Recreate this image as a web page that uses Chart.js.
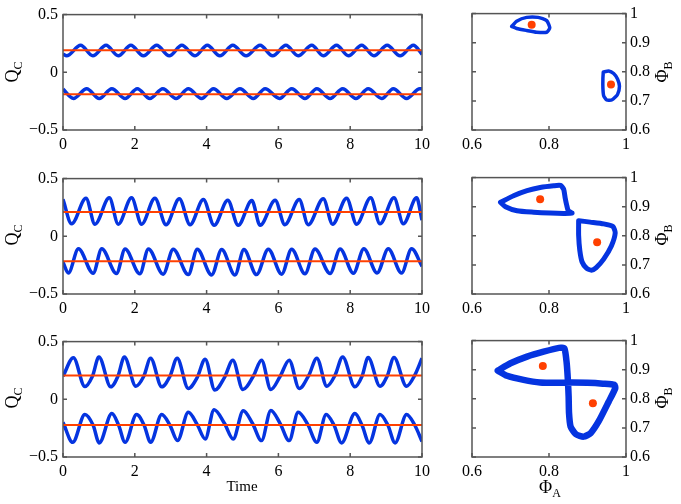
<!DOCTYPE html>
<html><head><meta charset="utf-8">
<script src="https://cdn.jsdelivr.net/npm/chart.js@4"></script>
<style>
html,body{margin:0;padding:0;background:#fff;}
#wrap{position:relative;width:681px;height:504px;overflow:hidden;background:#fff;font-family:'Liberation Serif','Times New Roman',serif;}
canvas{position:absolute;}
.lbl{position:absolute;white-space:nowrap;font-size:18px;color:#000;line-height:1;z-index:2;}
.rot{transform:translate(-50%,-50%) rotate(-90deg);}
.hor{transform:translate(-50%,-50%);}
.lbl sub{font-size:12px;vertical-align:-4px;line-height:0;}
</style></head>
<body>
<div id="wrap">
<canvas id="t1" width="440" height="160" style="left:0;top:0"></canvas>
<canvas id="t2" width="440" height="160" style="left:0;top:164px"></canvas>
<canvas id="t3" width="440" height="177" style="left:0;top:327px"></canvas>
<canvas id="p1" width="231" height="160" style="left:450px;top:0"></canvas>
<canvas id="p2" width="231" height="160" style="left:450px;top:164px"></canvas>
<canvas id="p3" width="231" height="177" style="left:450px;top:327px"></canvas>
<div class="lbl rot" style="left:12px;top:72px">Q<sub>C</sub></div>
<div class="lbl rot" style="left:12px;top:235px">Q<sub>C</sub></div>
<div class="lbl rot" style="left:12px;top:398px">Q<sub>C</sub></div>
<div class="lbl rot" style="left:662px;top:72px">&Phi;<sub>B</sub></div>
<div class="lbl rot" style="left:662px;top:235px">&Phi;<sub>B</sub></div>
<div class="lbl rot" style="left:662px;top:398px">&Phi;<sub>B</sub></div>
<div class="lbl hor" style="left:242px;top:486px;font-size:15px">Time</div>
<div class="lbl hor" style="left:550px;top:487px">&Phi;<sub>A</sub></div>
</div>
<script>
// ---------- time-series data (Q_C vs Time) ----------
const r1UpT = [0, 0.10, 0.49, 0.83, 1.20, 1.54, 1.89, 2.24, 2.61, 2.96, 3.31, 3.68, 4.02, 4.37, 4.73, 5.10, 5.49, 5.84, 6.21, 6.55, 6.93, 7.25, 7.62, 7.95, 8.32, 8.66, 9.03, 9.39, 9.76, 10];
const r1UpV = [0.157, 0.143, 0.234, 0.143, 0.234, 0.143, 0.234, 0.143, 0.234, 0.143, 0.234, 0.143, 0.234, 0.143, 0.234, 0.143, 0.234, 0.143, 0.234, 0.143, 0.234, 0.143, 0.234, 0.143, 0.234, 0.143, 0.234, 0.143, 0.234, 0.157];
const r1LoT = [0, 0.29, 0.66, 1.01, 1.36, 1.73, 2.07, 2.42, 2.78, 3.15, 3.49, 3.86, 4.19, 4.56, 4.93, 5.30, 5.63, 6.03, 6.37, 6.74, 7.07, 7.44, 7.79, 8.16, 8.50, 8.88, 9.20, 9.57, 9.94, 10];
const r1LoV = [-0.146, -0.227, -0.142, -0.227, -0.142, -0.227, -0.142, -0.227, -0.142, -0.227, -0.142, -0.227, -0.142, -0.227, -0.142, -0.227, -0.142, -0.227, -0.142, -0.227, -0.142, -0.227, -0.142, -0.227, -0.142, -0.227, -0.142, -0.227, -0.142, -0.143];
const r1Mean = [0.19, -0.19];

const r2UpT = [0, 0.24, 0.64, 0.89, 1.29, 1.54, 1.91, 2.19, 2.56, 2.87, 3.24, 3.54, 3.91, 4.21, 4.59, 4.88, 5.26, 5.49, 5.91, 6.18, 6.58, 6.83, 7.25, 7.51, 7.90, 8.18, 8.57, 8.83, 9.22, 9.48, 9.85, 10];
const r2UpV = [0.32, 0.108, 0.33, 0.105, 0.333, 0.105, 0.333, 0.105, 0.33, 0.10, 0.325, 0.10, 0.318, 0.095, 0.312, 0.095, 0.31, 0.095, 0.312, 0.10, 0.318, 0.10, 0.325, 0.105, 0.33, 0.105, 0.333, 0.108, 0.333, 0.108, 0.333, 0.14];
const r2LoT = [0, 0.15, 0.43, 0.84, 1.08, 1.49, 1.73, 2.14, 2.38, 2.79, 3.07, 3.49, 3.74, 4.14, 4.42, 4.79, 5.04, 5.39, 5.72, 6.09, 6.37, 6.74, 7.02, 7.44, 7.72, 8.09, 8.38, 8.75, 9.06, 9.43, 9.71, 10];
const r2LoV = [-0.225, -0.318, -0.108, -0.32, -0.108, -0.322, -0.11, -0.325, -0.11, -0.328, -0.112, -0.332, -0.112, -0.335, -0.115, -0.335, -0.115, -0.332, -0.112, -0.328, -0.112, -0.325, -0.11, -0.322, -0.11, -0.32, -0.108, -0.318, -0.108, -0.318, -0.108, -0.26];
const r2Mean = [0.21, -0.216];

const r3UpT = [0, 0.29, 0.61, 0.82, 1.00, 1.33, 1.53, 1.71, 2.03, 2.25, 2.44, 2.75, 2.98, 3.18, 3.49, 3.74, 3.96, 4.23, 4.50, 4.73, 5.01, 5.30, 5.53, 5.79, 6.05, 6.30, 6.58, 6.85, 7.07, 7.35, 7.58, 7.79, 8.13, 8.33, 8.50, 8.83, 9.03, 9.22, 9.57, 9.80, 10];
const r3UpV = [0.20, 0.36, 0.11, 0.20, 0.367, 0.108, 0.20, 0.367, 0.113, 0.20, 0.356, 0.108, 0.20, 0.356, 0.094, 0.19, 0.348, 0.080, 0.19, 0.339, 0.085, 0.20, 0.339, 0.085, 0.20, 0.339, 0.094, 0.21, 0.356, 0.113, 0.21, 0.367, 0.108, 0.20, 0.362, 0.113, 0.20, 0.362, 0.113, 0.21, 0.356];
const r3LoT = [0, 0.27, 0.61, 0.84, 1.01, 1.36, 1.55, 1.73, 2.05, 2.26, 2.44, 2.75, 2.98, 3.19, 3.49, 3.74, 3.96, 4.21, 4.50, 4.74, 5.02, 5.28, 5.53, 5.79, 6.05, 6.30, 6.55, 6.82, 7.07, 7.33, 7.55, 7.76, 8.13, 8.33, 8.53, 8.83, 9.05, 9.25, 9.57, 9.80, 10];
const r3LoV = [-0.20, -0.373, -0.132, -0.225, -0.378, -0.124, -0.225, -0.373, -0.132, -0.225, -0.373, -0.132, -0.225, -0.358, -0.113, -0.22, -0.344, -0.090, -0.21, -0.344, -0.100, -0.21, -0.358, -0.096, -0.21, -0.358, -0.113, -0.22, -0.373, -0.132, -0.225, -0.378, -0.124, -0.225, -0.378, -0.132, -0.225, -0.378, -0.132, -0.225, -0.365];
const r3Mean = [0.207, -0.222];

const timeTicks = [0, 2, 4, 6, 8, 10];
const qTicks = [-0.5, 0, 0.5];

// ---------- phase-plane data (Phi_B vs Phi_A) ----------
const p1aX = [0.703, 0.716, 0.742, 0.772, 0.794, 0.802, 0.794, 0.768, 0.742, 0.716, 0.703];
const p1aY = [0.956, 0.974, 0.987, 0.987, 0.976, 0.951, 0.936, 0.936, 0.942, 0.949, 0.956];
const p1bX = [0.941, 0.955, 0.968, 0.978, 0.983, 0.978, 0.964, 0.950, 0.942, 0.940, 0.940, 0.941];
const p1bY = [0.799, 0.803, 0.794, 0.775, 0.750, 0.722, 0.704, 0.703, 0.718, 0.745, 0.777, 0.799];
const p1dX = [0.755, 0.961];
const p1dY = [0.962, 0.756];

const p2aX = [0.674, 0.708, 0.743, 0.777, 0.812, 0.830, 0.838, 0.842, 0.846, 0.850, 0.860, 0.838, 0.803, 0.760, 0.717, 0.687, 0.674];
const p2aY = [0.915, 0.9375, 0.955, 0.966, 0.972, 0.973, 0.960, 0.930, 0.905, 0.886, 0.878, 0.877, 0.878, 0.881, 0.886, 0.900, 0.915];
const p2bX = [0.877, 0.907, 0.942, 0.966, 0.972, 0.962, 0.942, 0.922, 0.910, 0.898, 0.886, 0.880, 0.877, 0.877];
const p2bY = [0.852, 0.847, 0.841, 0.832, 0.810, 0.765, 0.720, 0.690, 0.682, 0.688, 0.710, 0.750, 0.801, 0.852];
const p2dX = [0.777, 0.925];
const p2dY = [0.926, 0.778];

const p3X = [0.667, 0.700, 0.743, 0.786, 0.826, 0.840, 0.846, 0.849, 0.851, 0.852, 0.856, 0.870, 0.890, 0.908, 0.930, 0.955, 0.972, 0.970, 0.940, 0.900, 0.860, 0.821, 0.777, 0.734, 0.691, 0.667];
const p3Y = [0.897, 0.922, 0.945, 0.962, 0.975, 0.973, 0.922, 0.865, 0.808, 0.751, 0.705, 0.678, 0.670, 0.682, 0.725, 0.790, 0.836, 0.848, 0.852, 0.855, 0.856, 0.855, 0.856, 0.865, 0.879, 0.897];
const p3dX = [0.784, 0.914];
const p3dY = [0.913, 0.785];

const phiATicks = [0.6, 0.8, 1];
const phiBTicks = [0.6, 0.7, 0.8, 0.9, 1];

// ---------- styling ----------
const FONT = {family: "'Liberation Serif','Times New Roman',serif", size: 16};
const BLUE = '#0534e0', RED = '#ff4000', FRAME = '#555';

function pts(xs, ys) { return xs.map((x, i) => ({x: x, y: ys[i]})); }
function fixTicks(list) { return function (scale) { scale.ticks = list.map(v => ({value: v})); }; }

const boxPlugin = {
  id: 'box',
  afterDatasetsDraw(chart) {
    const {ctx, chartArea: a, scales} = chart;
    ctx.save();
    ctx.strokeStyle = FRAME;
    ctx.lineWidth = 1.5;
    ctx.strokeRect(a.left, a.top, a.right - a.left, a.bottom - a.top);
    const L = 4;
    ctx.beginPath();
    scales.x.ticks.forEach(t => {
      const px = scales.x.getPixelForValue(t.value);
      ctx.moveTo(px, a.bottom); ctx.lineTo(px, a.bottom - L);
      ctx.moveTo(px, a.top); ctx.lineTo(px, a.top + L);
    });
    scales.y.ticks.forEach(t => {
      const py = scales.y.getPixelForValue(t.value);
      ctx.moveTo(a.left, py); ctx.lineTo(a.left + L, py);
      ctx.moveTo(a.right, py); ctx.lineTo(a.right - L, py);
    });
    ctx.stroke();
    ctx.restore();
  }
};

function baseOpts(padding) {
  return {
    responsive: false, animation: false, devicePixelRatio: 1,
    layout: {padding: padding},
    plugins: {legend: {display: false}, tooltip: {enabled: false}},
    events: []
  };
}

function timeChart(id, upT, upV, loT, loV, mean, xH) {
  const o = baseOpts({top: 13, right: 18, left: 0, bottom: 0});
  o.scales = {
    x: {type: 'linear', min: 0, max: 10, afterBuildTicks: fixTicks(timeTicks),
        ticks: {font: FONT, color: '#000', padding: 5, maxRotation: 0, autoSkip: false},
        grid: {display: false, drawTicks: false}, border: {display: false},
        afterFit(s) { s.height = xH; }},
    y: {type: 'linear', min: -0.5, max: 0.5, afterBuildTicks: fixTicks(qTicks),
        ticks: {font: FONT, color: '#000', padding: 5,
                callback: v => v === 0 ? '0' : (v < 0 ? '\u2212' : '') + Math.abs(v)},
        grid: {display: false, drawTicks: false}, border: {display: false},
        afterFit(s) { s.width = 63; }}
  };
  new Chart(document.getElementById(id), {
    type: 'line',
    data: {datasets: [
      {data: pts([0, 10], [mean[0], mean[0]]), borderColor: RED, borderWidth: 2, pointRadius: 0, order: 0},
      {data: pts([0, 10], [mean[1], mean[1]]), borderColor: RED, borderWidth: 2, pointRadius: 0, order: 0},
      {data: pts(upT, upV), borderColor: BLUE, borderWidth: 3.5, pointRadius: 0, cubicInterpolationMode: 'monotone', order: 1},
      {data: pts(loT, loV), borderColor: BLUE, borderWidth: 3.5, pointRadius: 0, cubicInterpolationMode: 'monotone', order: 1}
    ]},
    options: o,
    plugins: [boxPlugin]
  });
}

function phaseChart(id, loops, dX, dY, lw, xH) {
  const o = baseOpts({top: 13, right: 0, left: 22, bottom: 0});
  o.scales = {
    x: {type: 'linear', min: 0.6, max: 1, afterBuildTicks: fixTicks(phiATicks),
        ticks: {font: FONT, color: '#000', padding: 5, maxRotation: 0, autoSkip: false,
                callback: v => String(Math.round(v * 10) / 10)},
        grid: {display: false, drawTicks: false}, border: {display: false},
        afterFit(s) { s.height = xH; }},
    y: {type: 'linear', position: 'right', min: 0.6, max: 1, afterBuildTicks: fixTicks(phiBTicks),
        ticks: {font: FONT, color: '#000', padding: 4,
                callback: v => String(Math.round(v * 10) / 10)},
        grid: {display: false, drawTicks: false}, border: {display: false},
        afterFit(s) { s.width = 55; }}
  };
  const ds = [{data: pts(dX, dY), showLine: false, pointRadius: 4, pointBackgroundColor: RED, pointBorderWidth: 0, order: 0}];
  loops.forEach(l => ds.push({data: pts(l[0], l[1]), showLine: true, borderColor: BLUE, borderWidth: lw,
                              pointRadius: 0, tension: 0.2, borderJoinStyle: 'round', borderCapStyle: 'round', order: 1}));
  new Chart(document.getElementById(id), {type: 'scatter', data: {datasets: ds}, options: o, plugins: [boxPlugin]});
}

timeChart('t1', r1UpT, r1UpV, r1LoT, r1LoV, r1Mean, 30);
timeChart('t2', r2UpT, r2UpV, r2LoT, r2LoV, r2Mean, 30);
timeChart('t3', r3UpT, r3UpV, r3LoT, r3LoV, r3Mean, 47);
phaseChart('p1', [[p1aX, p1aY], [p1bX, p1bY]], p1dX, p1dY, 3.5, 30);
phaseChart('p2', [[p2aX, p2aY], [p2bX, p2bY]], p2dX, p2dY, 5, 30);
phaseChart('p3', [[p3X, p3Y]], p3dX, p3dY, 6.5, 47);
</script>
</body></html>
